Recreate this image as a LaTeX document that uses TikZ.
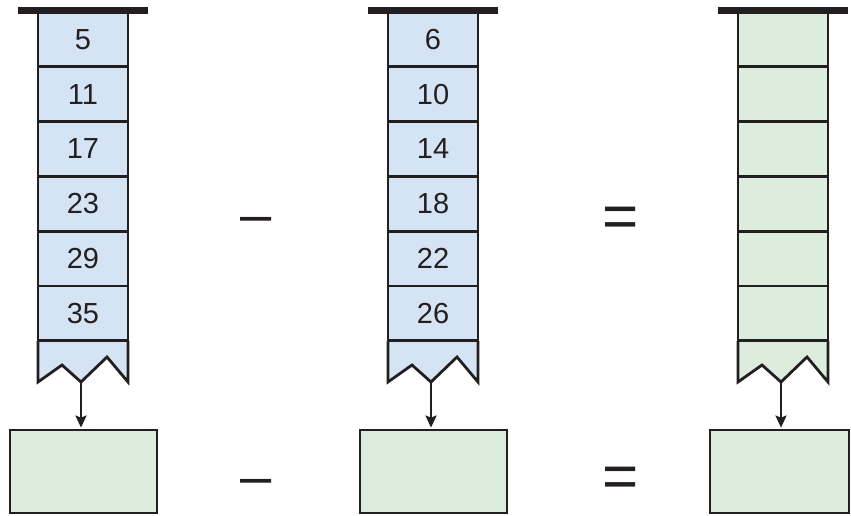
\documentclass[tikz,border=0pt]{standalone}
\usepackage{fontspec}
\setmainfont{Liberation Sans}
\usetikzlibrary{arrows.meta}
\definecolor{ink}{HTML}{231F20}
\definecolor{cellblue}{HTML}{D5E4F4}
\definecolor{cellgreen}{HTML}{DDEDDD}
\begin{document}
\begin{tikzpicture}[x=1pt,y=-1pt,
  cell/.style={draw=ink, line width=2.8pt, minimum width=90pt, minimum height=54.8pt,
    inner sep=0pt, font=\fontsize{29}{31}\selectfont, text=ink},
  topbar/.style={fill=ink, minimum width=130pt, minimum height=7pt, inner sep=0pt},
  zig/.style={draw=ink, line width=2.8pt, line join=miter},
  resbox/.style={draw=ink, line width=2.8pt, fill=cellgreen, minimum height=83pt, inner sep=0pt},
  arr/.style={draw=ink, line width=2.3pt, -{Stealth[length=12pt,width=11pt,inset=2pt]}, shorten >=1pt},
  sign/.style={text=ink, inner sep=0pt, anchor=base}]
\useasboundingbox (0,0) rectangle (851,515);

% zigzag bottoms
\foreach \cx/\fc in {83/cellblue, 433/cellblue, 783/cellgreen}{
  \filldraw[zig, fill=\fc] (\cx-45,340.8) -- (\cx-45,382) -- (\cx-21,365) -- (\cx-2,382)
     -- (\cx+24,357) -- (\cx+45,382) -- (\cx+45,340.8);
}

% column 1
\foreach \lab [count=\j] in {5,11,17,23,29,35}{
  \node[cell, fill=cellblue] (a\j) at (83,{12+54.8*(\j-0.5)}) {\lab};
}
% column 2
\foreach \lab [count=\j] in {6,10,14,18,22,26}{
  \node[cell, fill=cellblue] (b\j) at (433,{12+54.8*(\j-0.5)}) {\lab};
}
% column 3
\foreach \j in {1,...,6}{
  \node[cell, fill=cellgreen] (c\j) at (783,{12+54.8*(\j-0.5)}) {};
}

% top bars
\node[topbar] (ta) at (83,10.5) {};
\node[topbar] (tb) at (433,10.5) {};
\node[topbar] (tc) at (783,10.5) {};

% valleys
\coordinate (va) at (81,382);
\coordinate (vb) at (431,382);
\coordinate (vc) at (781,382);

% result boxes
\node[resbox, minimum width=147pt] (ra) at (83.5,471.5) {};
\node[resbox, minimum width=147pt] (rb) at (433.5,471.5) {};
\node[resbox, minimum width=139pt] (rc) at (779.5,471.5) {};

\draw[arr] (va) -- (va |- ra.north);
\draw[arr] (vb) -- (vb |- rb.north);
\draw[arr] (vc) -- (vc |- rc.north);

% signs
\node[sign, font=\fontsize{56}{60}\selectfont] (m1) at (256,233.5) {–};
\node[sign, font=\fontsize{56}{60}\selectfont] (m2) at (256,495) {–};
\node[sign, font=\fontsize{62}{66}\selectfont] (e1) at (621,237.5) {=};
\node[sign, font=\fontsize{62}{66}\selectfont] (e2) at (621,497.5) {=};
\end{tikzpicture}
\end{document}
